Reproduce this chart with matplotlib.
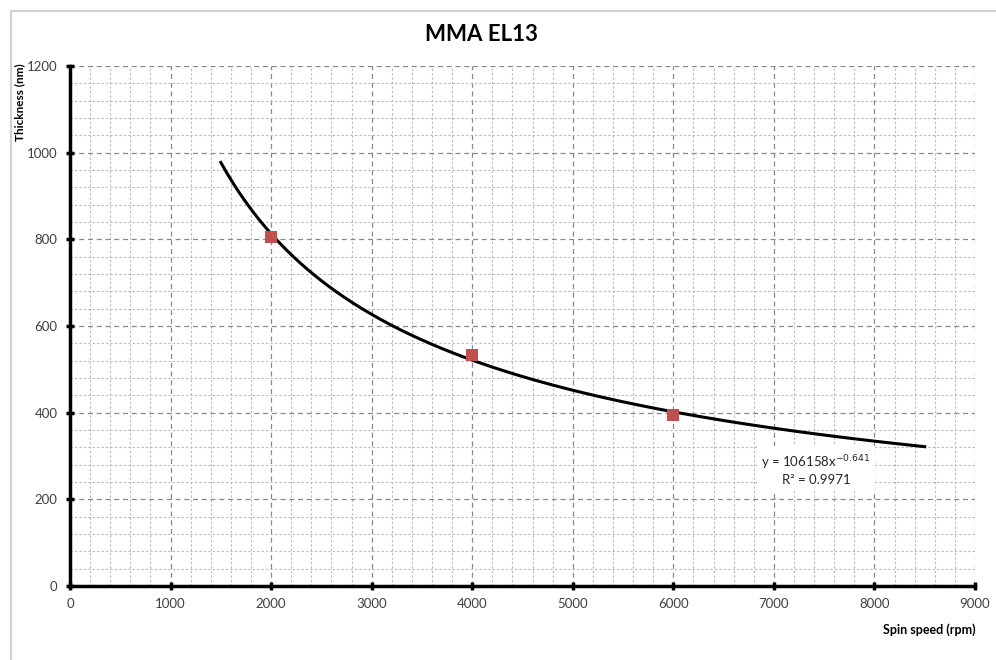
import numpy as np
import matplotlib.pyplot as plt
from matplotlib.patches import Rectangle
from matplotlib.ticker import MultipleLocator

plt.rcParams['font.family'] = ['Lato', 'DejaVu Sans']

# measured points
speed = [2000, 4000, 6000]
thickness = [805, 533, 395]

# power trendline as printed on the chart
coef_a = 106158
coef_b = -0.641
r2 = 0.9971
fit_start = 1500
fit_end = 8500

fig = plt.figure(figsize=(9.96, 6.6), dpi=100)
fig.patches.append(Rectangle((11 / 996, -0.1), 1.2, 1 - 11 / 660 + 0.1,
                             transform=fig.transFigure, fill=False,
                             edgecolor='#d0d0d0', linewidth=1.5))

ax = fig.add_axes([70 / 996, 1 - 586 / 660, 905 / 996, 520 / 660])

xs = np.linspace(fit_start, fit_end, 300)
ax.plot(xs, coef_a * xs ** coef_b, color='black', linewidth=2.2, zorder=3)
ax.scatter(speed, thickness, marker='s', s=70, color='#c0504d', zorder=4,
           linewidths=0)

ax.set_xlim(0, 9000)
ax.set_ylim(0, 1200)
ax.xaxis.set_major_locator(MultipleLocator(1000))
ax.xaxis.set_minor_locator(MultipleLocator(200))
ax.yaxis.set_major_locator(MultipleLocator(200))
ax.yaxis.set_minor_locator(MultipleLocator(40))

ax.grid(which='major', color='#888888', linestyle=(0, (4, 3)), linewidth=0.9)
ax.grid(which='minor', color='#b8b8b8', linestyle=(0, (2, 2)), linewidth=0.8)
ax.set_axisbelow(True)

for s in ['top', 'right']:
    ax.spines[s].set_visible(False)
for s in ['left', 'bottom']:
    ax.spines[s].set_linewidth(2.5)

ax.tick_params(which='major', direction='inout', length=6, width=2.5,
               labelsize=9.5, labelcolor='#404040', pad=6)
ax.tick_params(which='minor', length=0)

fig.text(0.483, 0.947, 'MMA EL13', ha='center', va='center',
         fontsize=16, fontweight='bold')
fig.text(20 / 996, 1 - 102 / 660, 'Thickness (nm)', rotation=90,
         ha='center', va='center', fontsize=8.5, fontweight='bold')
fig.text(976 / 996, 1 - 630 / 660, 'Spin speed (rpm)', ha='right',
         va='center', fontsize=9, fontweight='bold')

ax.text(7420, 268, f'y = {coef_a}x$^{{{coef_b}}}$\nR² = {r2}',
        ha='center', va='center', fontsize=9.5, color='#262626',
        linespacing=1.25,
        bbox=dict(facecolor='white', edgecolor='none', pad=3))

fig.savefig('out.png', dpi=100)
